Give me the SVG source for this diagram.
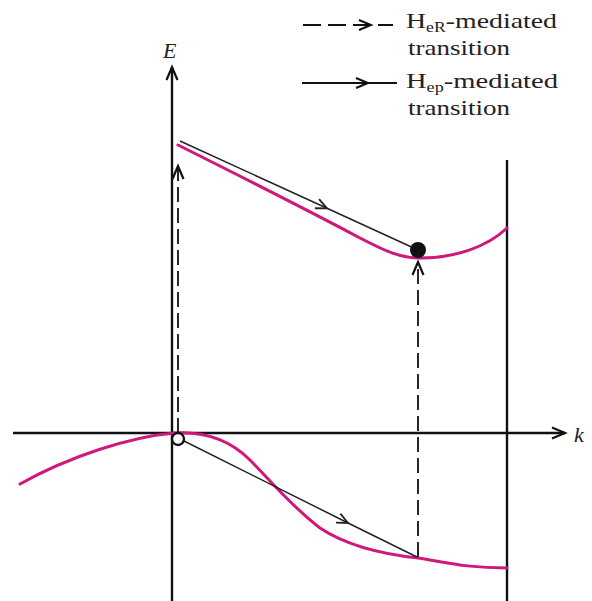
<svg xmlns="http://www.w3.org/2000/svg" width="592" height="601" viewBox="0 0 592 601">
<style>
.axis{stroke:#111;stroke-width:2.4;fill:none}
.band{stroke:#d0187c;stroke-width:3;fill:none;stroke-linecap:round}
.thin{stroke:#222;stroke-width:1.5;fill:none}
.dash{stroke:#111;stroke-width:1.8;fill:none;stroke-dasharray:15 6}
.lbl{font-family:"Liberation Serif","Times New Roman",serif;fill:#222;font-size:22px}
.sub{font-size:14px}
.it{font-style:italic}
</style>
<defs>
<marker id="chev" markerUnits="userSpaceOnUse" viewBox="-16 -10 20 20" markerWidth="20" markerHeight="20" refX="0" refY="0" orient="auto" overflow="visible">
<path d="M-13,-5.5 L0,0 L-13,5.5" fill="none" stroke="#111" stroke-width="2.2" stroke-dasharray="none"/>
</marker>
<marker id="chevs" markerUnits="userSpaceOnUse" viewBox="-16 -10 20 20" markerWidth="20" markerHeight="20" refX="0" refY="0" orient="auto" overflow="visible">
<path d="M-11,-5 L0,0 L-11,5" fill="none" stroke="#222" stroke-width="1.8" stroke-dasharray="none"/>
</marker>
</defs>
<g id="axes">
<line class="axis" x1="172" y1="601" x2="172" y2="67" marker-end="url(#chev)"/>
<line class="axis" x1="13" y1="433" x2="565" y2="433" marker-end="url(#chev)"/>
<line class="axis" x1="507" y1="160" x2="507" y2="601"/>
<text class="lbl it" x="163" y="58">E</text>
<text class="lbl it" x="574" y="442">k</text>
</g>
<g id="upper-band">
<path class="band" d="M178,145 C260,186 330,222 360,238 C385,251 400,258 420,258 C455,258 487,247 507,228"/>
</g>
<g id="lower-band">
<path class="band" d="M20,484 C70,456 130,437 174,433 C205,431 230,440 250,460 C270,480 290,505 320,528 C350,548 390,555 418,558 C445,562 465,568 507,568"/>
</g>
<g id="connectors">
<line class="dash" x1="178" y1="433" x2="178" y2="166" marker-end="url(#chev)"/>
<line class="dash" x1="418" y1="557" x2="418" y2="262" marker-end="url(#chev)"/>
<polyline class="thin" points="180,141 327,208.3 418,250" marker-mid="url(#chevs)"/>
<polyline class="thin" points="182,440 348,523 417,557" marker-mid="url(#chevs)"/>
</g>
<g id="states">
<circle cx="418" cy="250" r="8" fill="#111"/>
<circle cx="178" cy="439" r="6" fill="#fff" stroke="#111" stroke-width="2.4"/>
</g>
<g id="legend">
<line class="dash" x1="303" y1="25" x2="393" y2="25" style="stroke-dasharray:18 7"/>
<path d="M359,20 L371,25 L359,30" fill="none" stroke="#111" stroke-width="2"/>
<text class="lbl" x="406" y="28" textLength="151" lengthAdjust="spacingAndGlyphs">H<tspan class="sub" dy="4">eR</tspan><tspan dy="-4">-mediated</tspan></text>
<text class="lbl" x="408" y="55" textLength="102" lengthAdjust="spacingAndGlyphs">transition</text>
<line x1="302" y1="83" x2="397" y2="83" stroke="#111" stroke-width="1.8"/>
<path d="M356,78 L368,83 L356,88" fill="none" stroke="#111" stroke-width="2"/>
<text class="lbl" x="406" y="88" textLength="152" lengthAdjust="spacingAndGlyphs">H<tspan class="sub" dy="4">ep</tspan><tspan dy="-4">-mediated</tspan></text>
<text class="lbl" x="408" y="115" textLength="102" lengthAdjust="spacingAndGlyphs">transition</text>
</g>
</svg>
